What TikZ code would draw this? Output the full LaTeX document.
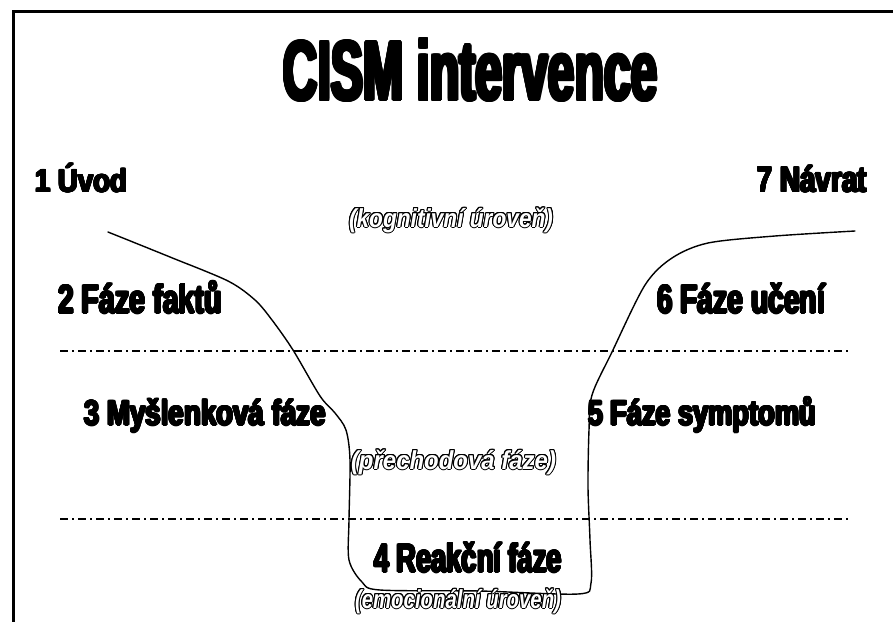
\documentclass[tikz,border=0pt]{standalone}
\usepackage{fontspec}
\setmainfont{Liberation Sans}
\usepackage{graphicx}
\tikzset{
  lbl/.style={anchor=base west, inner sep=0pt, outer sep=0pt},
  frameline/.style={line width=3.5pt, line cap=rect},
  levelline/.style={line width=1.3pt, dash pattern=on 8pt off 4pt on 2pt off 4pt},
  curveline/.style={line width=1.4pt, line cap=round}
}
% #1 name, #2 position, #3 font size, #4 width, #5 thickening radius, #6 text
\newcommand\heavynode[6]{%
  \foreach \a in {0,22.5,...,337.5}{\node[lbl,text=black,shift={(\a:#5)}] at (#2) {\fontsize{#3}{#3}\selectfont\bfseries\resizebox{#4}{\height}{#6}};}
  \node[lbl,text=black] (#1) at (#2) {\fontsize{#3}{#3}\selectfont\bfseries\resizebox{#4}{\height}{#6}};}
\newcommand\outlinenode[6]{%
  \foreach \a in {0,22.5,...,337.5}{\node[lbl,text=black,shift={(\a:#5)}] at (#2) {\fontsize{#3}{#3}\selectfont\bfseries\itshape\resizebox{#4}{\height}{#6}};}
  \node[lbl,text=white] (#1) at (#2) {\fontsize{#3}{#3}\selectfont\bfseries\itshape\resizebox{#4}{\height}{#6}};}
\begin{document}
\begin{tikzpicture}[x=1pt, y=-1pt]
\useasboundingbox (0,0) rectangle (893,621);
\fill[white] (0,0) rectangle (893,621);
% frame
\coordinate (fbl) at (13.5,625);
\coordinate (ftl) at (13.5,11.5);
\coordinate (ftr) at (897,11.5);
\draw[frameline] (fbl) -- (ftl) -- (ftr);
% level lines
\coordinate (l1a) at (60,351);
\coordinate (l1b) at (848,351);
\coordinate (l2a) at (60,519);
\coordinate (l2b) at (848,519);
\draw[levelline] (l1a) -- (l1b);
\draw[levelline] (l2a) -- (l2b);
% curve
\draw[curveline] plot[smooth, tension=0.5] coordinates {
 (108,232) (170,257) (228,281) (255,300) (272,320) (293,350) (320,396) (335,413) (346,430)
 (350,460) (349,520) (349,560) (362,582) (380,590) (480,591) (578,594) (591,583)
 (590,540) (588,487) (589,430) (592,395) (612,352) (645,285) (672,258) (708,243)
 (775,236) (855,231)};
% title
\heavynode{title}{283,100}{84}{375pt}{1.8}{CISM intervence}
% phases
\heavynode{p1}{35,192}{32}{92pt}{0.9}{1 Úvod}
\heavynode{p7}{757,192}{36}{110pt}{0.9}{7 Návrat}
\heavynode{p2}{58,313}{40}{164pt}{1}{2 Fáze faktů}
\heavynode{p6}{657,313}{40}{168pt}{1}{6 Fáze učení}
\heavynode{p3}{84,425}{35}{242pt}{1}{3 Myšlenková fáze}
\heavynode{p5}{588,425}{35}{228pt}{1}{5 Fáze symptomů}
\heavynode{p4}{374,572}{40}{188pt}{1}{4 Reakční fáze}
% levels
\outlinenode{k}{349,227}{26}{204pt}{1}{(kognitivní úroveň)}
\outlinenode{pr}{351,469}{26}{205pt}{1}{(přechodová fáze)}
\outlinenode{em}{355,608}{26}{206pt}{1}{(emocionální úroveň)}
\end{tikzpicture}
\end{document}
